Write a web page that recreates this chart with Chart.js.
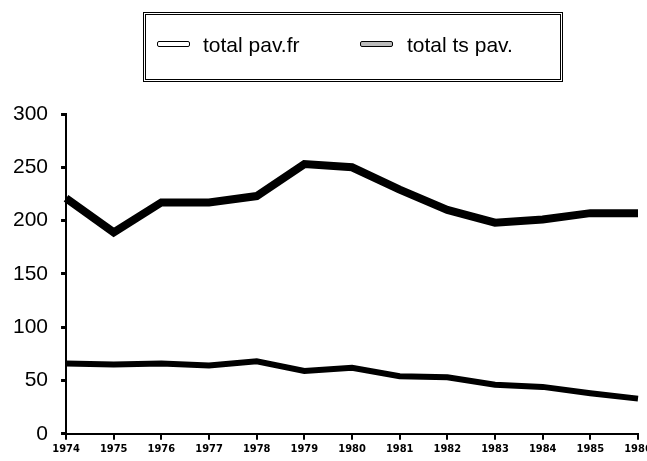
<!DOCTYPE html>
<html>
<head>
<meta charset="utf-8">
<script src="https://cdn.jsdelivr.net/npm/chart.js@4"></script>
<style>
  html, body { margin: 0; padding: 0; background: #fff; }
  #wrap { position: relative; width: 647px; height: 461px; }
  #legend {
    position: absolute; left: 143px; top: 12px; width: 414px; height: 64px;
    border: 3px double #000; box-sizing: content-box;
    font-family: "Liberation Sans", Arial, sans-serif; font-size: 21px; color: #000;
  }
  .item { position: absolute; top: 18px; line-height: 24px; }
  .swatch { position: absolute; width: 31px; height: 4px; border: 1.5px solid #000; border-radius: 2px; }
</style>
</head>
<body>
<div id="wrap">
  <canvas id="c" width="647" height="461"></canvas>
  <div id="legend"></div>
</div>
<script>
const years = ["1974", "1975", "1976", "1977", "1978", "1979", "1980", "1981", "1982", "1983", "1984", "1985", "1986"];
const pavFr = [66, 65, 66, 64, 68, 59, 62, 54, 53, 46, 44, 38, 33];
const tsPav = [221, 189, 217, 217, 223, 253, 250, 229, 210, 198, 201, 207, 207];
const seriesNames = ["total pav.fr", "total ts pav."];
const yTicks = [0, 50, 100, 150, 200, 250, 300];

// legend drawn as html so the box can sit off-centre like the scan
const legendEl = document.getElementById("legend");
const swatchFill = ["#fff", "#bbb"];
const legendX = [[11, 57], [214, 261]];
seriesNames.forEach((name, i) => {
  const sw = document.createElement("div");
  sw.className = "swatch";
  sw.style.left = legendX[i][0] + "px";
  sw.style.top = "26px";
  sw.style.background = swatchFill[i];
  legendEl.appendChild(sw);
  const t = document.createElement("div");
  t.className = "item";
  t.style.left = legendX[i][1] + "px";
  t.textContent = name;
  legendEl.appendChild(t);
});

new Chart(document.getElementById("c"), {
  type: "line",
  data: {
    labels: years,
    datasets: [
      { label: seriesNames[0], data: pavFr, borderColor: "#000", borderWidth: 6, tension: 0, pointRadius: 0, fill: false },
      { label: seriesNames[1], data: tsPav, borderColor: "#000", borderWidth: 8, tension: 0, pointRadius: 0, fill: false },
    ],
  },
  options: {
    responsive: false,
    animation: false,
    layout: { padding: { top: 114, left: 0, right: 9, bottom: 2 } },
    plugins: { legend: { display: false }, tooltip: { enabled: false } },
    scales: {
      x: {
        offset: false,
        // last year label runs off the page in the scan, so don't reserve room for it
        afterFit: scale => { scale.paddingRight = 0; },
        border: { color: "#000", width: 2 },
        grid: { drawOnChartArea: false, color: "#000", lineWidth: 2, tickLength: 6 },
        ticks: { color: "#000", padding: 3, maxRotation: 0, autoSkip: false,
                 font: { family: "DejaVu Sans Condensed", size: 11, weight: "bold" } },
      },
      y: {
        min: 0,
        max: 300,
        afterBuildTicks: axis => { axis.ticks = yTicks.map(v => ({ value: v })); },
        border: { color: "#000", width: 2 },
        grid: { drawOnChartArea: false, color: "#000", lineWidth: 3, tickLength: 5 },
        ticks: { color: "#000", padding: 13,
                 font: { family: "Liberation Sans", size: 21 } },
      },
    },
  },
});
</script>
</body>
</html>
